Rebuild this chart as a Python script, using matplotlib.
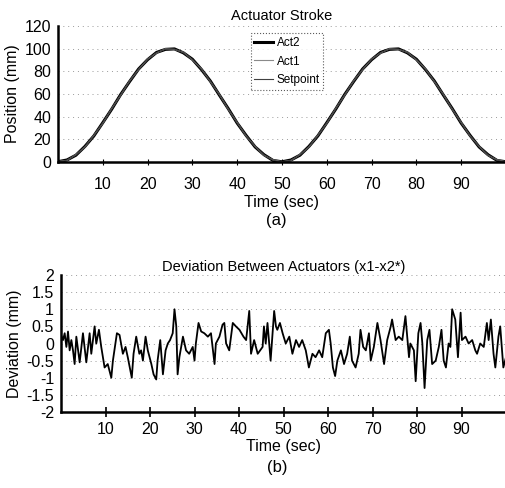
import matplotlib
matplotlib.use("Agg")
import matplotlib.pyplot as plt
from matplotlib.ticker import FuncFormatter

plt.rcParams['font.family'] = ['Liberation Sans', 'DejaVu Sans']

# ---- Panel (a): actuator stroke ----
stroke_time = list(range(0, 101, 2))
setpoint = [0, 1.6, 6.2, 13.5, 23.2, 34.5, 46.9, 59.4, 71.3, 81.9, 90.5, 96.5, 99.6,
            99.6, 96.5, 90.5, 81.9, 71.3, 59.4, 46.9, 34.5, 23.2, 13.5, 6.2, 1.6, 0,
            1.6, 6.2, 13.5, 23.2, 34.5, 46.9, 59.4, 71.3, 81.9, 90.5, 96.5, 99.6,
            99.6, 96.5, 90.5, 81.9, 71.3, 59.4, 46.9, 34.5, 23.2, 13.5, 6.2, 1.6, 0]
act1 = [0.5, 1.4, 6.5, 13.2, 23.5, 34.2, 47.2, 59.1, 71.6, 81.6, 90.8, 96.2, 99.9,
        99.3, 96.8, 90.2, 82.2, 71.0, 59.7, 46.6, 34.8, 22.9, 13.8, 5.9, 1.9, 0.3,
        1.3, 6.5, 13.2, 23.5, 34.2, 47.2, 59.1, 71.6, 81.6, 90.8, 96.2, 99.9,
        99.3, 96.8, 90.2, 82.2, 71.0, 59.7, 46.6, 34.8, 22.9, 13.8, 5.9, 1.9, 0.3]
act2 = [0.3, 1.8, 6.0, 13.7, 23.0, 34.7, 46.7, 59.6, 71.1, 82.1, 90.3, 96.7, 99.4,
        99.8, 96.3, 90.7, 81.7, 71.5, 59.2, 47.1, 34.3, 23.4, 13.3, 6.4, 1.4, 0.2,
        1.8, 6.0, 13.7, 23.0, 34.7, 46.7, 59.6, 71.1, 82.1, 90.3, 96.7, 99.4,
        99.8, 96.3, 90.7, 81.7, 71.5, 59.2, 47.1, 34.3, 23.4, 13.3, 6.4, 1.4, 0.2]

# ---- Panel (b): deviation between actuators ----
dev_time = [0, 0.45, 0.82, 1.2, 1.57, 1.94, 2.32, 2.69, 3.06, 3.44, 4.19, 4.93, 5.68,
            6.43, 6.8, 7.55, 7.92, 8.52, 9.04, 9.79, 10.5, 11.3, 11.66, 12.56, 13.15,
            13.9, 14.5, 15.0, 15.9, 16.3, 16.9, 17.6, 18.0, 18.4, 19.0, 19.5, 20.3,
            20.8, 21.4, 21.7, 22.3, 22.9, 23.5, 24.0, 24.5, 25.1, 25.5, 25.9, 26.2,
            26.6, 27.4, 28.1, 28.8, 29.6, 30.0, 30.3, 30.9, 31.5, 32.2, 33.0, 33.7,
            34.5, 34.8, 35.6, 36.3, 36.7, 37.1, 37.8, 38.6, 39.3, 40.1, 41.0, 41.6,
            42.3, 42.7, 43.4, 44.2, 45.3, 45.6, 46.0, 46.4, 47.1, 47.9, 48.3, 48.6,
            49.2, 49.8, 50.5, 51.3, 52.0, 52.8, 53.5, 54.2, 55.0, 55.7, 56.5, 57.2,
            58.0, 58.7, 59.5, 60.2, 60.6, 61.1, 61.6, 62.1, 62.9, 63.6, 64.3, 64.9,
            65.4, 66.2, 66.9, 67.3, 67.9, 68.5, 69.2, 69.6, 70.3, 71.1, 71.8, 72.6,
            73.3, 74.1, 74.4, 75.2, 75.9, 76.7, 77.4, 78.2, 78.5, 79.3, 79.7, 80.3,
            80.8, 81.2, 81.7, 82.3, 82.8, 83.4, 84.2, 84.9, 85.5, 86.0, 86.5, 87.1,
            87.5, 87.9, 88.6, 89.2, 89.8, 90.1, 90.9, 91.6, 92.4, 93.1, 93.5, 94.2,
            95.0, 95.7, 96.1, 96.6, 97.2, 97.6, 98.0, 98.3, 98.7, 99.4, 100]
deviation = [0.25, 0.1, 0.3, -0.1, 0.35, -0.2, 0.1, -0.2, -0.6, 0.2, -0.55, 0.3, -0.55,
             0.3, -0.3, 0.5, 0.0, 0.4, -0.1, -0.7, -0.6, -1.0, -0.5, 0.3, 0.25,
             -0.3, -0.1, -0.4, -1.0, -0.3, 0.2, -0.3, -0.2, -0.5, 0.2, -0.2, -0.6,
             -0.9, -1.05, -0.5, 0.1, -0.9, -0.2, 0.0, 0.1, 0.3, 1.0, 0.5, -0.9,
             -0.4, 0.2, -0.2, -0.3, -0.1, -0.5, 0.0, 0.6, 0.35, 0.3, 0.2, 0.3,
             -0.6, 0.0, 0.2, 0.55, 0.6, 0.0, -0.2, 0.6, 0.5, 0.4, 0.2, 0.1,
             0.95, -0.3, 0.1, -0.3, -0.1, 0.5, 0.0, 0.6, -0.5, 0.95, 0.5, 0.4,
             0.6, 0.3, 0.0, 0.2, -0.3, 0.1, -0.1, 0.1, -0.2, -0.7, -0.3, -0.4,
             -0.2, -0.4, 0.3, 0.4, 0.0, -0.7, -0.95, -0.5, -0.2, -0.6, -0.3, 0.2,
             -0.5, -0.7, -0.3, 0.4, -0.1, -0.2, 0.3, -0.5, -0.1, 0.6, 0.1, -0.6,
             0.1, 0.5, 0.7, 0.1, 0.2, 0.1, 0.8, -0.4, 0.0, -0.2, -1.1, 0.3,
             0.6, 0.0, -1.3, 0.1, 0.4, -0.6, -0.5, -0.1, 0.4, -0.5, -0.7, 0.0,
             -0.1, 1.0, 0.7, -0.4, 0.9, 0.1, 0.2, 0.0, 0.1, -0.2, -0.3, 0.0,
             -0.1, 0.6, 0.1, 0.7, -0.3, -0.7, -0.2, 0.2, 0.5, -0.7, -0.4]

x_ticks = [10, 20, 30, 40, 50, 60, 70, 80, 90]
stroke_yticks = [0, 20, 40, 60, 80, 100, 120]
dev_yticks = [-2, -1.5, -1, -0.5, 0, 0.5, 1, 1.5, 2]

fig = plt.figure(figsize=(5.06, 4.88), dpi=100)
ax1 = fig.add_axes([0.1146, 0.668, 0.8854, 0.2787])
ax2 = fig.add_axes([0.1206, 0.1557, 0.8794, 0.2808])

grid_kw = dict(color='#9a9a9a', linestyle=(0, (1, 4)), linewidth=0.7)
TICK_FS = 11.5
LABEL_FS = 11.5
TITLE_FS = 10.5

def style(ax):
    for s in ['top', 'right']:
        ax.spines[s].set_visible(False)
    ax.spines['left'].set_linewidth(1.8)
    ax.spines['bottom'].set_linewidth(1.8)
    ax.tick_params(axis='y', length=0, labelsize=TICK_FS, pad=5)
    ax.tick_params(axis='x', direction='inout', length=7, width=1.2,
                   labelsize=TICK_FS, pad=4)
    ax.set_xlim(0, 100)
    ax.set_xticks(x_ticks)
    ax.yaxis.grid(True, **grid_kw)
    ax.set_axisbelow(True)

# Panel (a)
ax1.plot(stroke_time, act2, color='black', linewidth=2.2, label='Act2')
ax1.plot(stroke_time, act1, color='#8a8a8a', linewidth=0.8, label='Act1')
ax1.plot(stroke_time, setpoint, color='#404040', linewidth=0.8, label='Setpoint')
style(ax1)
ax1.tick_params(axis='x', length=4, width=0.8, pad=9)
ax1.set_ylim(0, 120)
ax1.set_yticks(stroke_yticks)
ax1.set_title('Actuator Stroke', fontsize=TITLE_FS, pad=4)
ax1.set_ylabel('Position (mm)', fontsize=LABEL_FS, labelpad=3)
ax1.set_xlabel('Time (sec)', fontsize=LABEL_FS, labelpad=2)
leg = ax1.legend(loc='upper left', bbox_to_anchor=(0.43, 0.945), fontsize=8.5,
                 frameon=True, fancybox=False, handlelength=1.6,
                 borderpad=0.3, labelspacing=0.55, handletextpad=0.3,
                 borderaxespad=0)
leg.get_frame().set_linestyle(':')
leg.get_frame().set_edgecolor('#333333')
leg.get_frame().set_linewidth(0.8)
fig.text(0.547, 0.549, '(a)', ha='center', va='center', fontsize=12)

# Panel (b)
ax2.plot(dev_time, deviation, color='black', linewidth=1.3)
style(ax2)
ax2.set_ylim(-2, 2)
ax2.set_yticks(dev_yticks)
ax2.yaxis.set_major_formatter(FuncFormatter(lambda v, p: f'{v:g}'))
ax2.set_title('Deviation Between Actuators (x1-x2*)', fontsize=TITLE_FS, pad=3)
ax2.set_ylabel('Deviation (mm)', fontsize=LABEL_FS, labelpad=3)
ax2.set_xlabel('Time (sec)', fontsize=LABEL_FS, labelpad=1)
fig.text(0.547, 0.041, '(b)', ha='center', va='center', fontsize=12)

fig.savefig('out.png', dpi=100)
